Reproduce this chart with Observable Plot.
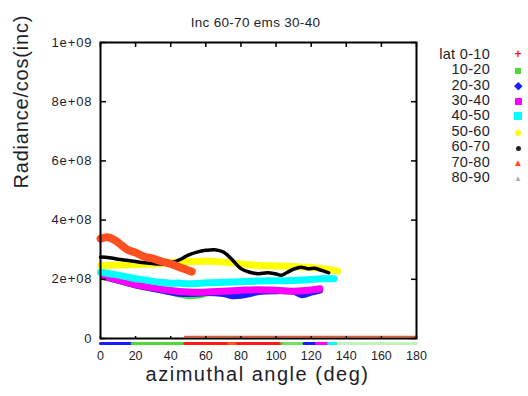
<!DOCTYPE html>
<html>
<head>
<meta charset="utf-8">
<script src="https://cdn.jsdelivr.net/npm/d3@7"></script>
<script src="https://cdn.jsdelivr.net/npm/@observablehq/plot@0.6"></script>
<style>
  html, body { margin: 0; padding: 0; background: #fff; }
  #wrap { position: relative; width: 528px; height: 396px; font-family: "Liberation Sans", Arial, sans-serif; }
  #legend { position: absolute; left: 418px; top: 46px; }
  .row { height: 15.45px; display: flex; align-items: center; }
  .lab { width: 72px; text-align: right; font-size: 14.5px; color: #1e1e2a; letter-spacing: 0.3px; }
  .mk { width: 56px; text-align: center; line-height: 10px; }
  svg text { fill: #1e1e2a; }
  g[aria-label="y-axis tick label"] text { letter-spacing: 0.9px; }
</style>
</head>
<body>
<div id="wrap"><div id="legend"></div></div>
<script>
// ---- data ----
const titleText = "Inc 60-70 ems 30-40";
const xLabel = "azimuthal angle (deg)";
const yLabel = "Radiance/cos(inc)";
const xTicks = [0, 20, 40, 60, 80, 100, 120, 140, 160, 180];
const yTicks = [0, 2e8, 4e8, 6e8, 8e8, 1e9];
const yTickLabels = ["0", "2e+08", "4e+08", "6e+08", "8e+08", "1e+09"];
const seriesNames = ["0-10", "10-20", "20-30", "30-40", "40-50", "50-60", "60-70", "70-80", "80-90"];

const lat10_20x = [2, 10, 20, 30, 40, 46, 50, 54, 58, 62, 70, 80, 90, 100, 110, 120];
const lat10_20y = [2.06e8, 1.95e8, 1.79e8, 1.67e8, 1.56e8, 1.47e8, 1.43e8, 1.44e8, 1.48e8, 1.54e8, 1.57e8, 1.60e8, 1.62e8, 1.60e8, 1.60e8, 1.63e8];
const lat20_30x = [2, 10, 20, 30, 40, 45, 50, 55, 60, 70, 75, 80, 85, 90, 100, 110, 115, 120, 125];
const lat20_30y = [2.08e8, 1.96e8, 1.80e8, 1.68e8, 1.56e8, 1.51e8, 1.50e8, 1.51e8, 1.54e8, 1.50e8, 1.43e8, 1.44e8, 1.50e8, 1.57e8, 1.60e8, 1.58e8, 1.46e8, 1.55e8, 1.62e8];
const lat30_40x = [2, 5, 10, 15, 20, 25, 30, 35, 40, 45, 50, 55, 60, 70, 80, 90, 100, 110, 115, 120, 125];
const lat30_40y = [2.10e8, 2.06e8, 1.98e8, 1.90e8, 1.82e8, 1.76e8, 1.71e8, 1.66e8, 1.62e8, 1.59e8, 1.57e8, 1.56e8, 1.57e8, 1.60e8, 1.63e8, 1.65e8, 1.63e8, 1.60e8, 1.61e8, 1.64e8, 1.68e8];
const lat40_50x = [0, 5, 10, 15, 20, 25, 30, 35, 40, 45, 50, 55, 60, 70, 80, 90, 100, 110, 120, 125, 130, 133];
const lat40_50y = [2.24e8, 2.19e8, 2.14e8, 2.08e8, 2.02e8, 1.98e8, 1.93e8, 1.89e8, 1.87e8, 1.87e8, 1.85e8, 1.86e8, 1.88e8, 1.90e8, 1.92e8, 1.94e8, 1.95e8, 1.96e8, 1.99e8, 2.02e8, 2.02e8, 2.02e8];
const lat50_60x = [0, 10, 20, 30, 40, 50, 60, 70, 80, 90, 100, 110, 120, 130, 135];
const lat50_60y = [2.47e8, 2.48e8, 2.50e8, 2.52e8, 2.56e8, 2.60e8, 2.61e8, 2.58e8, 2.52e8, 2.47e8, 2.45e8, 2.43e8, 2.40e8, 2.33e8, 2.28e8];
const lat60_70x = [0, 5, 10, 15, 20, 25, 30, 35, 40, 45, 50, 55, 60, 65, 70, 75, 80, 85, 90, 95, 100, 103, 106, 110, 114, 118, 122, 126, 130];
const lat60_70y = [2.75e8, 2.73e8, 2.68e8, 2.64e8, 2.60e8, 2.56e8, 2.53e8, 2.52e8, 2.56e8, 2.66e8, 2.82e8, 2.92e8, 2.98e8, 3.00e8, 2.92e8, 2.66e8, 2.36e8, 2.24e8, 2.19e8, 2.22e8, 2.18e8, 2.14e8, 2.22e8, 2.34e8, 2.41e8, 2.36e8, 2.37e8, 2.30e8, 2.22e8];
const lat70_80x = [0, 4, 8, 12, 16, 20, 25, 30, 35, 40, 45, 50, 52];
const lat70_80y = [3.37e8, 3.42e8, 3.33e8, 3.15e8, 2.98e8, 2.90e8, 2.76e8, 2.70e8, 2.60e8, 2.52e8, 2.41e8, 2.30e8, 2.26e8];

// zero-valued stretches along the bottom
const zeroSeries = ["20-30", "10-20", "0-10", "70-80", "0-10", "10-20", "20-30", "30-40", "40-50", "10-20"];
const zeroFrom =   [0, 18, 48, 73, 78, 103, 116, 123, 130, 134];
const zeroTo =     [18, 48, 73, 78, 103, 116, 123, 130, 134, 180];
const zeroInnerFrom = [48];
const zeroInnerTo = [180];

// ---- styles ----
const colors = {"0-10": "#ff1a1a", "10-20": "#4fd83a", "20-30": "#1a1aff", "30-40": "#ff00ff", "40-50": "#00ffff",
                "50-60": "#ffff00", "60-70": "#000000", "70-80": "#ff5020", "80-90": "#a0a0a0"};
const zeroOpacity = [1, 1, 1, 1, 1, 0.8, 1, 1, 1, 0.35];

function pts(xs, ys) { return xs.map((x, i) => ({x, y: ys[i]})); }
function seg(i) { return [{x: zeroFrom[i], y: 0, i}, {x: zeroTo[i], y: 0, i}]; }

const lineSpecs = [
  ["10-20", lat10_20x, lat10_20y, 6],
  ["20-30", lat20_30x, lat20_30y, 6],
  ["30-40", lat30_40x, lat30_40y, 7],
  ["40-50", lat40_50x, lat40_50y, 7],
  ["50-60", lat50_60x, lat50_60y, 7],
  ["60-70", lat60_70x, lat60_70y, 3.5],
  ["70-80", lat70_80x, lat70_80y, 8]
];

const marks = [];
zeroSeries.forEach((s, i) => {
  marks.push(Plot.line(seg(i), {x: "x", y: "y", stroke: colors[s], strokeWidth: 3, strokeOpacity: zeroOpacity[i], dy: 5}));
});
zeroInnerFrom.forEach((f, i) => {
  marks.push(Plot.line([{x: f, y: 0}, {x: zeroInnerTo[i], y: 0}], {x: "x", y: "y", stroke: colors["70-80"], strokeWidth: 1.5, dy: -2}));
});
lineSpecs.forEach(([s, xs, ys, w]) => {
  marks.push(Plot.line(pts(xs, ys), {x: "x", y: "y", stroke: colors[s], strokeWidth: w, curve: "catmull-rom", strokeLinecap: "round", strokeLinejoin: "round"}));
});
marks.push(
  Plot.frame({stroke: "#000", strokeWidth: 2}),
  Plot.tickX(xTicks, {x: d => d, insetBottom: 291, stroke: "#000", strokeWidth: 1.5}),
  Plot.tickX(xTicks, {x: d => d, insetTop: 294, stroke: "#000", strokeWidth: 1.5}),
  Plot.tickY(yTicks, {y: d => d, insetRight: 310, stroke: "#000", strokeWidth: 1.5}),
  Plot.tickY(yTicks, {y: d => d, insetLeft: 311, stroke: "#000", strokeWidth: 1.5}),
  Plot.axisX({ticks: xTicks, tickSize: 0, tickPadding: 13, label: null, fontSize: 12.5, tickFormat: d => String(d)}),
  Plot.axisY({ticks: yTicks, tickSize: 0, tickPadding: 8, label: null, fontSize: 13, tickFormat: d => yTickLabels[yTicks.indexOf(d)]}),
  Plot.text([xLabel], {frameAnchor: "bottom", dy: 42, dx: -1, fontSize: 20, text: d => d}),
  Plot.text([yLabel], {frameAnchor: "left", dx: -79, dy: -2, rotate: -90, fontSize: 20, text: d => d}),
  Plot.text([titleText], {frameAnchor: "top", dy: -25, dx: -3, fontSize: 13.5, text: d => d})
);

const chart = Plot.plot({
  width: 528,
  height: 396,
  marginLeft: 100,
  marginRight: 112,
  marginTop: 42,
  marginBottom: 58,
  x: {domain: [0, 180]},
  y: {domain: [0, 1e9]},
  style: {fontFamily: "Liberation Sans, Arial, sans-serif", background: "#fff", overflow: "visible"},
  marks
});
const wrap = document.getElementById("wrap");
wrap.insertBefore(chart, wrap.firstChild);

// widen the label lettering like the reference
d3.select(chart).selectAll('g[aria-label="text"] text').each(function() {
  const t = this.textContent;
  if (t === xLabel) this.style.letterSpacing = "1.5px";
  else if (t === yLabel) this.style.letterSpacing = "0.8px";
  else if (t === titleText) this.style.letterSpacing = "0.3px";
});

// legend
const markers = {
  "0-10":  '<span style="color:#ff1a1a;font-size:12px;font-weight:bold">+</span>',
  "10-20": '<span style="display:inline-block;width:6px;height:6px;background:#4fd83a"></span>',
  "20-30": '<span style="color:#1a1aff;font-size:11px">&#9670;</span>',
  "30-40": '<span style="display:inline-block;width:7px;height:7px;background:#ff00ff"></span>',
  "40-50": '<span style="display:inline-block;width:8px;height:8px;background:#00ffff"></span>',
  "50-60": '<span style="display:inline-block;width:6px;height:6px;border-radius:50%;background:#ffff00"></span>',
  "60-70": '<span style="display:inline-block;width:5px;height:5px;border-radius:50%;background:#222"></span>',
  "70-80": '<span style="color:#ff5020;font-size:10px">&#9650;</span>',
  "80-90": '<span style="color:#b0b0b0;font-size:8px">&#9650;</span>'
};
const legend = document.getElementById("legend");
seriesNames.forEach((s, i) => {
  const row = document.createElement("div");
  row.className = "row";
  row.innerHTML = `<div class="lab">${i === 0 ? "lat " + s : s}</div><div class="mk">${markers[s]}</div>`;
  legend.appendChild(row);
});
</script>
</body>
</html>
